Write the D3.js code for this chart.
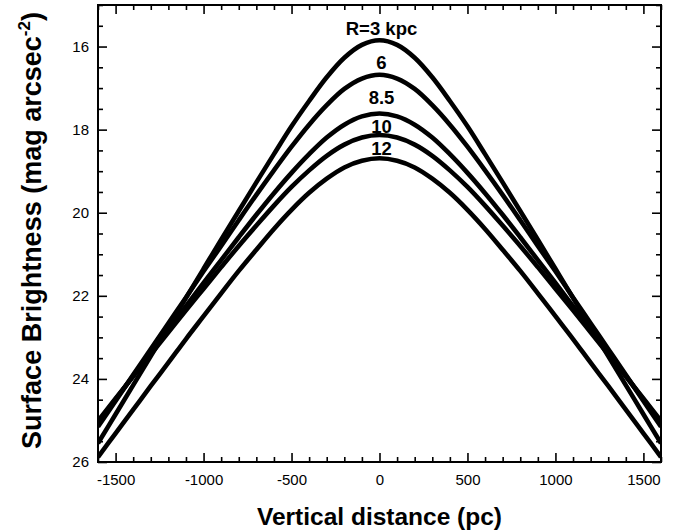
<!DOCTYPE html>
<html><head><meta charset="utf-8">
<script src="https://cdn.jsdelivr.net/npm/d3@7/dist/d3.min.js"></script>
<style>body{margin:0;background:#fff}svg{display:block}</style>
</head><body>
<svg id="c" width="677" height="532"></svg>
<script>
// ---- data ----
const zValues = [-1600,-1500,-1400,-1300,-1200,-1100,-1000,-900,-800,-700,-600,-500,-400,-300,-200,-100,0,100,200,300,400,500,600,700,800,900,1000,1100,1200,1300,1400,1500,1600];
const seriesLabels = ["R=3 kpc","6","8.5","10","12"];
const muR3  = [25.55,24.85,24.15,23.45,22.75,22.05,21.35,20.65,19.96,19.27,18.59,17.92,17.31,16.74,16.27,15.96,15.85,15.96,16.27,16.74,17.31,17.92,18.59,19.27,19.96,20.65,21.35,22.05,22.75,23.45,24.15,24.85,25.55];
const muR6  = [25.15,24.53,23.90,23.28,22.66,22.04,21.41,20.80,20.18,19.57,18.98,18.41,17.88,17.41,17.02,16.77,16.68,16.77,17.02,17.41,17.88,18.41,18.98,19.57,20.18,20.80,21.41,22.04,22.66,23.28,23.90,24.53,25.15];
const muR85 = [25.05,24.49,23.93,23.36,22.81,22.25,21.69,21.14,20.59,20.05,19.53,19.04,18.59,18.19,17.88,17.68,17.61,17.68,17.88,18.19,18.59,19.04,19.53,20.05,20.59,21.14,21.69,22.25,22.81,23.36,23.93,24.49,25.05];
const muR10 = [25.01,24.47,23.94,23.41,22.88,22.35,21.83,21.31,20.80,20.31,19.83,19.38,18.98,18.63,18.36,18.19,18.13,18.19,18.36,18.63,18.98,19.38,19.83,20.31,20.80,21.31,21.83,22.35,22.88,23.41,23.94,24.47,25.01];
const muR12 = [25.88,25.31,24.74,24.17,23.61,23.04,22.49,21.94,21.40,20.89,20.39,19.93,19.52,19.18,18.91,18.75,18.69,18.75,18.91,19.18,19.52,19.93,20.39,20.89,21.40,21.94,22.49,23.04,23.61,24.17,24.74,25.31,25.88];
const xTicks = [-1500,-1000,-500,0,500,1000,1500];
const xTickLabels = ["-1500","-1000","-500","0","500","1000","1500"];
const yTicks = [16,18,20,22,24,26];
const yTickLabels = ["16","18","20","22","24","26"];
const xMinor = [-1600,-1400,-1300,-1200,-1100,-900,-800,-700,-600,-400,-300,-200,-100,100,200,300,400,600,700,800,900,1100,1200,1300,1400,1600];
const yMinor = [15,15.5,16.5,17,17.5,18.5,19,19.5,20.5,21,21.5,22.5,23,23.5,24.5,25,25.5];

const allSeries = [muR3, muR6, muR85, muR10, muR12];

// ---- chart ----
const FONT = "Arial, 'Liberation Sans', Helvetica, sans-serif";
const svg = d3.select("#c");
const L = 98, R = 661, T = 5, B = 462;
const x = d3.scaleLinear().domain([-1600, 1600]).range([L, R]);
const y = d3.scaleLinear().domain([15, 26]).range([T, B]);

svg.append("defs").append("clipPath").attr("id","pc")
  .append("rect").attr("x",L).attr("y",T).attr("width",R-L).attr("height",B-T);

// curves
const line = d3.line().x((d,i)=>x(zValues[i])).y(d=>y(d)).curve(d3.curveCatmullRom.alpha(0.5));
svg.append("g").attr("clip-path","url(#pc)").selectAll("path").data(allSeries).join("path")
  .attr("d", line).attr("fill","none").attr("stroke","#000").attr("stroke-width",4.6)
  .attr("stroke-linejoin","round");

// axes
function styleAxis(g){
  g.select(".domain").remove();
  g.selectAll(".tick line").attr("stroke","#000").attr("stroke-width",1.6);
  g.selectAll("text").attr("font-family",FONT).attr("font-size",15).attr("fill","#000");
}
svg.append("g").attr("transform",`translate(0,${B})`)
  .call(d3.axisBottom(x).tickValues(xTicks).tickSize(-9).tickPadding(12).tickFormat((d,i)=>xTickLabels[i])).call(styleAxis);
svg.append("g").attr("transform",`translate(0,${B})`)
  .call(d3.axisBottom(x).tickValues(xMinor).tickSize(-5).tickFormat("")).call(styleAxis);
svg.append("g").attr("transform",`translate(0,${T})`)
  .call(d3.axisTop(x).tickValues(xTicks).tickSize(-9).tickFormat("")).call(styleAxis);
svg.append("g").attr("transform",`translate(0,${T})`)
  .call(d3.axisTop(x).tickValues(xMinor).tickSize(-5).tickFormat("")).call(styleAxis);
svg.append("g").attr("transform",`translate(${L},0)`)
  .call(d3.axisLeft(y).tickValues(yTicks).tickSize(-9).tickPadding(9).tickFormat((d,i)=>yTickLabels[i])).call(styleAxis);
svg.append("g").attr("transform",`translate(${L},0)`)
  .call(d3.axisLeft(y).tickValues(yMinor).tickSize(-5).tickFormat("")).call(styleAxis);
svg.append("g").attr("transform",`translate(${R},0)`)
  .call(d3.axisRight(y).tickValues(yTicks).tickSize(-9).tickFormat("")).call(styleAxis);
svg.append("g").attr("transform",`translate(${R},0)`)
  .call(d3.axisRight(y).tickValues(yMinor).tickSize(-5).tickFormat("")).call(styleAxis);

// frame
svg.append("rect").attr("x",L).attr("y",T).attr("width",R-L).attr("height",B-T)
  .attr("fill","none").attr("stroke","#000").attr("stroke-width",2);

// curve labels (above each peak)
const labelLift = [12, 12, 16, 9, 10];
svg.append("g").selectAll("text").data(seriesLabels).join("text")
  .attr("x", x(0)+2)
  .attr("y", (d,i)=>y(allSeries[i][16]) - labelLift[i] + 6.5)
  .attr("text-anchor","middle").attr("font-family",FONT).attr("font-weight","bold")
  .attr("font-size",18.5).text(d=>d);

// axis titles
svg.append("text").attr("x",(L+R)/2).attr("y",525).attr("text-anchor","middle")
  .attr("font-family",FONT).attr("font-weight","bold").attr("font-size",24.5).text("Vertical distance (pc)");
const yt = svg.append("text").attr("transform",`translate(41,${(T+B)/2 - 3}) rotate(-90)`)
  .attr("text-anchor","middle").attr("font-family",FONT).attr("font-weight","bold").attr("font-size",27);
yt.append("tspan").text("Surface Brightness (mag arcsec");
yt.append("tspan").attr("font-size",17).attr("dy",-11).text("-2");
yt.append("tspan").attr("dy",11).text(")");
</script>
</body></html>
